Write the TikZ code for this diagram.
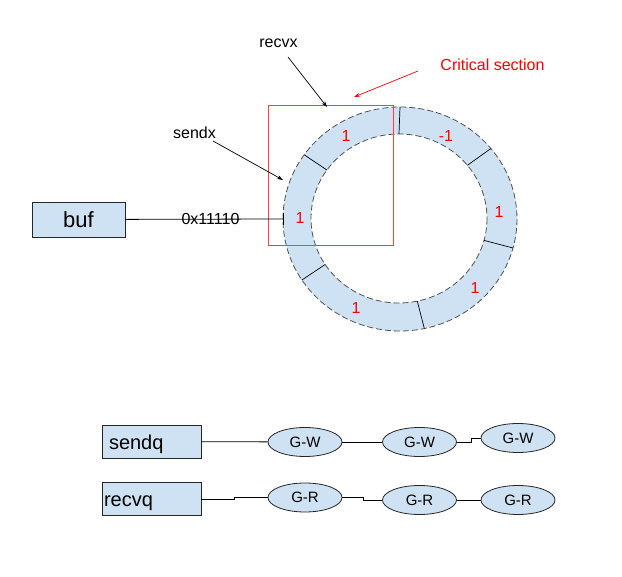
\documentclass[tikz,border=0pt]{standalone}
\usepackage{fontspec}
\setmainfont{Liberation Sans}
\usetikzlibrary{shapes.geometric,arrows.meta}
\definecolor{cellblue}{HTML}{CFE2F3}
\definecolor{ringgray}{HTML}{505050}
\begin{document}
\begin{tikzpicture}[x=1pt,y=-1pt,
  lbl/.style={font=\fontsize{16}{19}\selectfont},
  cnt/.style={lbl,text=red},
  ptr/.style={-{Stealth[length=6pt,width=4pt]},line width=0.7pt},
  qbox/.style={draw=black!85,fill=cellblue,line width=0.8pt,minimum height=33pt,
    font=\fontsize{20}{24}\selectfont,align=left,text height=15.4pt,text depth=0pt},
  gor/.style={ellipse,draw=black!85,fill=cellblue,line width=0.8pt,inner sep=0pt,
    minimum width=74pt,minimum height=29pt,font=\fontsize{15}{18}\selectfont},
  link/.style={line width=0.8pt}]
\useasboundingbox (0,0) rectangle (622,577);
% ring buffer
\fill[cellblue,even odd rule] (400,219) ellipse [x radius=117,y radius=112]
  (399,218.5) ellipse [x radius=88,y radius=84.5];
\draw[ringgray,dash pattern=on 6pt off 3pt,line width=0.8pt]
  (400,219) ellipse [x radius=117,y radius=112];
\draw[ringgray,dash pattern=on 6pt off 3pt,line width=0.8pt]
  (399,218.5) ellipse [x radius=88,y radius=84.5];
\foreach \a in {90,145,213,282,345,39}
\draw[line width=0.7pt] ({399+88*cos(\a)},{218.5-84.5*sin(\a)}) -- ({400+117*cos(\a)},{219-112*sin(\a)});
\node[cnt] (c1) at (346,136) {1};
\node[cnt] (c2) at (446,136) {-1};
\node[cnt] (c3) at (499,212) {1};
\node[cnt] (c4) at (475,288) {1};
\node[cnt] (c5) at (356,308) {1};
\node[cnt] (c6) at (300,218) {1};
% critical section
\draw[red!75,line width=0.9pt] (268,105) rectangle (393,245);
\node[lbl,text=red] (crit) at (492.5,65) {Critical section};
\coordinate (critEnd) at (354,97);
\draw[ptr,red] (418,71) -- (critEnd);
% indices
\node[lbl] (recvx) at (278.5,43) {recvx};
\coordinate (recvxEnd) at (327,107);
\draw[ptr] (288,57) -- (recvxEnd);
\node[lbl] (sendx) at (194.5,133) {sendx};
\coordinate (sendxEnd) at (283,180);
\draw[ptr] (213,141) -- (sendxEnd);
% buf pointer
\node[qbox,minimum width=93pt,font=\fontsize{22}{26}\selectfont,minimum height=35pt,
  text height=16pt] (buf) at (78.5,219.5) {buf};
\node[lbl] (addr) at (210.5,219) {0x11110};
\coordinate (ringW) at (283,219);
\draw[link] (buf) -- (ringW);
\draw[link] (ringW) ++(0,-6) -- ++(0,12);
% wait queues
\node[qbox,inner xsep=7pt,text width=85pt] (sendq) at (151.5,441.5) {sendq};
\node[qbox,inner xsep=2pt,text width=95pt] (recvq) at (151.5,499) {recvq};
\node[gor] (gw1) at (305,442) {G-W};
\node[gor] (gw2) at (419.5,442) {G-W};
\node[gor] (gw3) at (518,438) {G-W};
\node[gor] (gr1) at (305,497.5) {G-R};
\node[gor] (gr2) at (419.5,500) {G-R};
\node[gor] (gr3) at (518,500) {G-R};
\draw[link] (sendq) -- (gw1);
\draw[link] (gw1) -- (gw2);
\draw[link] (gw2.east) -- ++(14,0) |- (gw3.west);
\draw[link] (recvq.east) -- ++(33,0) |- (gr1.west);
\draw[link] (gr1.east) -- ++(21,0) |- (gr2.west);
\draw[link] (gr2) -- (gr3);
\end{tikzpicture}
\end{document}
